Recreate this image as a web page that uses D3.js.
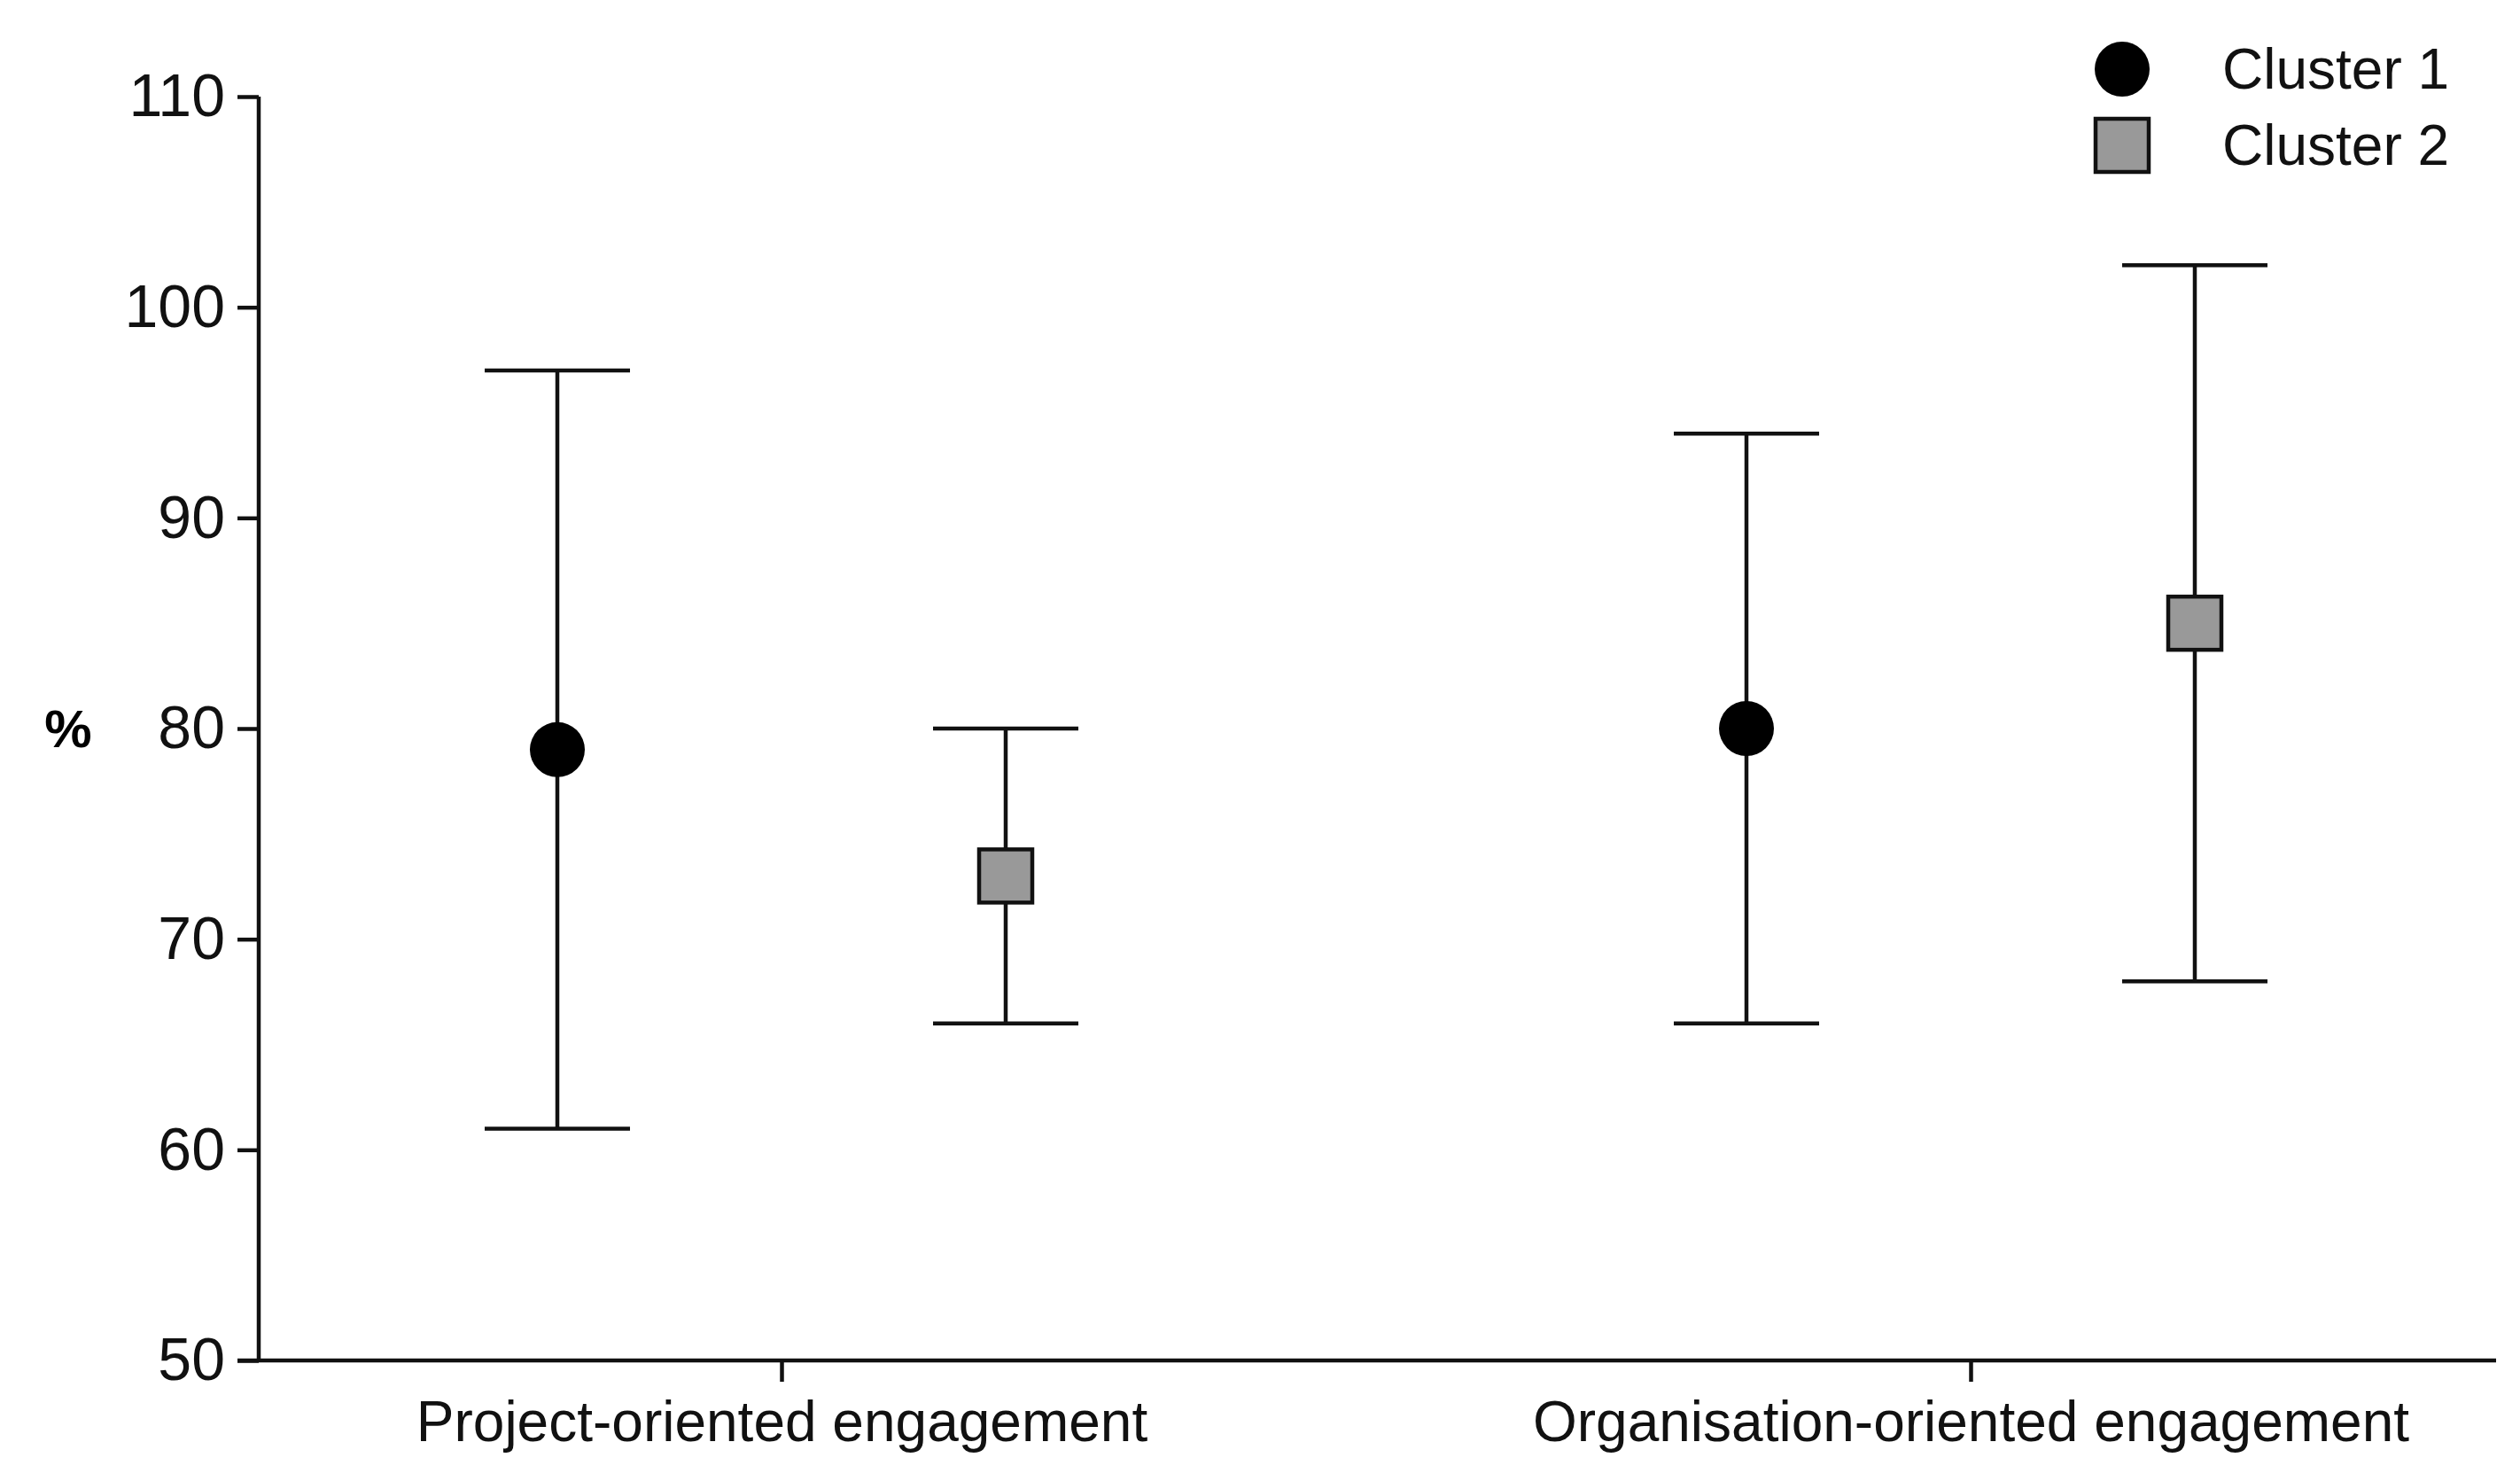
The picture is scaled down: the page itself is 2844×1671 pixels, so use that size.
<!DOCTYPE html><html><head><meta charset="utf-8"><script src="https://cdn.jsdelivr.net/npm/d3@7"></script>
<style>body{margin:0;background:#fff}text{font-family:"Liberation Sans",Arial,sans-serif}</style></head><body>
<svg id="c" width="2844" height="1671"></svg>
<script>
const categories=["Project-oriented engagement","Organisation-oriented engagement"];
const seriesNames=["Cluster 1","Cluster 2"];
const cluster1Mean=[79,80], cluster1Low=[61,66], cluster1High=[97,94];
const cluster2Mean=[73,85], cluster2Low=[66,68], cluster2High=[80,102];
const yTicks=[50,60,70,80,90,100,110];

const svg=d3.select("#c");
const L=292,R=2817,T=109,B=1535;
const y=d3.scaleLinear().domain([50,110]).range([B,T]);
const x=d3.scalePoint().domain(categories).range([882,2224]);
const off=253, cap=82, sw=4.5;

const ya=svg.append("g").attr("transform",`translate(${L},0)`).call(d3.axisLeft(y).tickValues(yTicks).tickSize(24).tickPadding(14));
ya.select(".domain").attr("d",`M0,${T}V${B}`);
const xa=svg.append("g").attr("transform",`translate(0,${B})`).call(d3.axisBottom(x).tickSize(24).tickPadding(22));
xa.select(".domain").attr("d",`M${L-24},0H${R}`);
[ya,xa].forEach(a=>{a.selectAll("path,line").attr("stroke","#111").attr("stroke-width",sw);a.selectAll("text").attr("font-size",68).attr("fill","#111").attr("font-family","Liberation Sans, Arial, sans-serif");});
xa.selectAll("text").attr("font-size",64);
svg.append("text").attr("x",77).attr("y",y(80)).attr("dy","0.35em").attr("text-anchor","middle").attr("font-size",60).attr("font-weight","bold").text("%");

const series=[{m:cluster1Mean,l:cluster1Low,h:cluster1High,dx:-off},{m:cluster2Mean,l:cluster2Low,h:cluster2High,dx:off}];
series.forEach((s,si)=>{
  categories.forEach((c,i)=>{
    const cx=x(c)+s.dx;
    const g=svg.append("g").attr("stroke","#111").attr("stroke-width",sw);
    g.append("line").attr("x1",cx).attr("x2",cx).attr("y1",y(s.l[i])).attr("y2",y(s.h[i]));
    g.append("line").attr("x1",cx-cap).attr("x2",cx+cap).attr("y1",y(s.h[i])).attr("y2",y(s.h[i]));
    g.append("line").attr("x1",cx-cap).attr("x2",cx+cap).attr("y1",y(s.l[i])).attr("y2",y(s.l[i]));
    if(si===0) svg.append("circle").attr("cx",cx).attr("cy",y(s.m[i])).attr("r",31).attr("fill","#000");
    else svg.append("rect").attr("x",cx-30).attr("y",y(s.m[i])-30).attr("width",60).attr("height",60).attr("fill","#999").attr("stroke","#111").attr("stroke-width",sw);
  });
});
// legend
svg.append("circle").attr("cx",2395).attr("cy",78).attr("r",31).attr("fill","#000");
svg.append("rect").attr("x",2365).attr("y",134).attr("width",60).attr("height",60).attr("fill","#999").attr("stroke","#111").attr("stroke-width",sw);
seriesNames.forEach((n,i)=>svg.append("text").attr("x",2508).attr("y",[78,164][i]).attr("dy","0.35em").attr("font-size",64).attr("fill","#111").text(n));
</script></body></html>
